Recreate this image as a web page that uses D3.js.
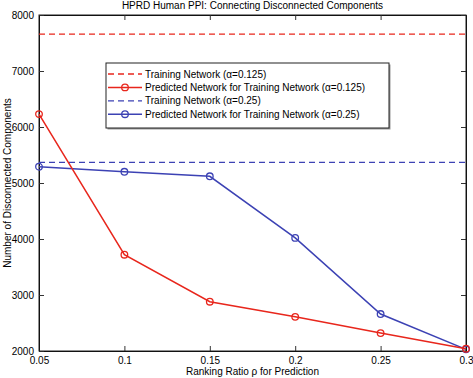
<!DOCTYPE html>
<html lang="en">
<head>
<meta charset="UTF-8">
<title>HPRD Human PPI</title>
<script src="https://d3js.org/d3.v7.min.js"></script>
<style>
    body { margin: 0; background: #fff; }
    svg { display: block; font-family: "Liberation Sans", Arial, sans-serif; }
</style>
</head>
<body>
<svg id="chart" width="473" height="378"></svg>
<script>
// data
const ratios = [0.05, 0.1, 0.15, 0.2, 0.25, 0.3];
const predicted0125 = [6230, 3720, 2880, 2610, 2320, 2040];
const predicted025 = [5290, 5200, 5120, 4020, 2660, 2030];
const training0125 = 7660;
const training025 = 5370;
const xTicks = [0.05, 0.1, 0.15, 0.2, 0.25, 0.3];
const yTicks = [2000, 3000, 4000, 5000, 6000, 7000, 8000];
const legendLabels = [
    "Training Network (\u03b1=0.125)",
    "Predicted Network for Training Network (\u03b1=0.125)",
    "Training Network (\u03b1=0.25)",
    "Predicted Network for Training Network (\u03b1=0.25)"
];

const red = "#e8261c", blue = "#3c42b4";
const margin = {top: 15, right: 7, bottom: 27, left: 39};
const W = 473, H = 378;
const w = W - margin.left - margin.right, h = H - margin.top - margin.bottom;

const svg = d3.select("#chart");
const g = svg.append("g").attr("transform", `translate(${margin.left},${margin.top})`);

const x = d3.scaleLinear().domain([0.05, 0.3]).range([0, w]);
const y = d3.scaleLinear().domain([2000, 8000]).range([h, 0]);

// axes with inward ticks
g.append("g").attr("transform", `translate(0,${h})`)
    .call(d3.axisBottom(x).tickValues(xTicks).tickFormat(d3.format("")).tickSizeInner(-5).tickSizeOuter(0).tickPadding(6));
g.append("g").attr("transform", "translate(0,0)")
    .call(d3.axisTop(x).tickValues(xTicks).tickFormat("").tickSizeInner(-5).tickSizeOuter(0));
g.append("g")
    .call(d3.axisLeft(y).tickValues(yTicks).tickFormat(d3.format("")).tickSizeInner(-5).tickSizeOuter(0).tickPadding(5));
g.append("g").attr("transform", `translate(${w},0)`)
    .call(d3.axisRight(y).tickValues(yTicks).tickFormat("").tickSizeInner(-5).tickSizeOuter(0));

g.selectAll(".domain").attr("stroke", "#000");
g.selectAll(".tick line").attr("stroke", "#333");
g.selectAll(".tick text").attr("font-size", 10).attr("fill", "#000");
g.append("rect").attr("width", w).attr("height", h).attr("fill", "none").attr("stroke", "#222").attr("stroke-width", 1);

// dashed training lines
[[training0125, red], [training025, blue]].forEach(([v, c]) => {
    g.append("line").attr("x1", 0).attr("x2", w).attr("y1", y(v)).attr("y2", y(v))
        .attr("stroke", c).attr("stroke-width", 1.3).attr("stroke-dasharray", "6,4");
});

// predicted lines
const line = d3.line().x((d, i) => x(ratios[i])).y(d => y(d));
[[predicted025, blue], [predicted0125, red]].forEach(([vals, c]) => {
    g.append("path").datum(vals).attr("fill", "none").attr("stroke", c).attr("stroke-width", 1.5).attr("d", line);
    g.selectAll(null).data(vals).enter().append("circle")
        .attr("cx", (d, i) => x(ratios[i])).attr("cy", d => y(d)).attr("r", 3.3)
        .attr("fill", "none").attr("stroke", c).attr("stroke-width", 1.3);
});

// title and axis labels
svg.append("text").attr("x", margin.left + w / 2).attr("y", 9).attr("text-anchor", "middle")
    .attr("font-size", 10).text("HPRD Human PPI: Connecting Disconnected Components");
svg.append("text").attr("x", margin.left + w / 2).attr("y", 375).attr("text-anchor", "middle")
    .attr("font-size", 10).text("Ranking Ratio \u03c1 for Prediction");
svg.append("text").attr("transform", `translate(11,${margin.top + h / 2}) rotate(-90)`)
    .attr("text-anchor", "middle").attr("font-size", 10).text("Number of Disconnected Components");

// legend
const lg = svg.append("g").attr("transform", "translate(106,63)");
lg.append("rect").attr("x", 1.5).attr("y", 1.5).attr("width", 283).attr("height", 65).attr("fill", "#999");
lg.append("rect").attr("width", 283).attr("height", 65).attr("fill", "#fff").attr("stroke", "#222").attr("stroke-width", 1);
const styles = [[red, true], [red, false], [blue, true], [blue, false]];
legendLabels.forEach((t, i) => {
    const ly = 11 + i * 13.4;
    const [c, dashed] = styles[i];
    lg.append("line").attr("x1", 2).attr("x2", 36).attr("y1", ly).attr("y2", ly)
        .attr("stroke", c).attr("stroke-width", dashed ? 1.3 : 1.5)
        .attr("stroke-dasharray", dashed ? "6,4" : null);
    if (!dashed) lg.append("circle").attr("cx", 19).attr("cy", ly).attr("r", 3.3)
        .attr("fill", "none").attr("stroke", c).attr("stroke-width", 1.3);
    lg.append("text").attr("x", 39).attr("y", ly + 3.5).attr("font-size", 10).text(t);
});
</script>
</body>
</html>
